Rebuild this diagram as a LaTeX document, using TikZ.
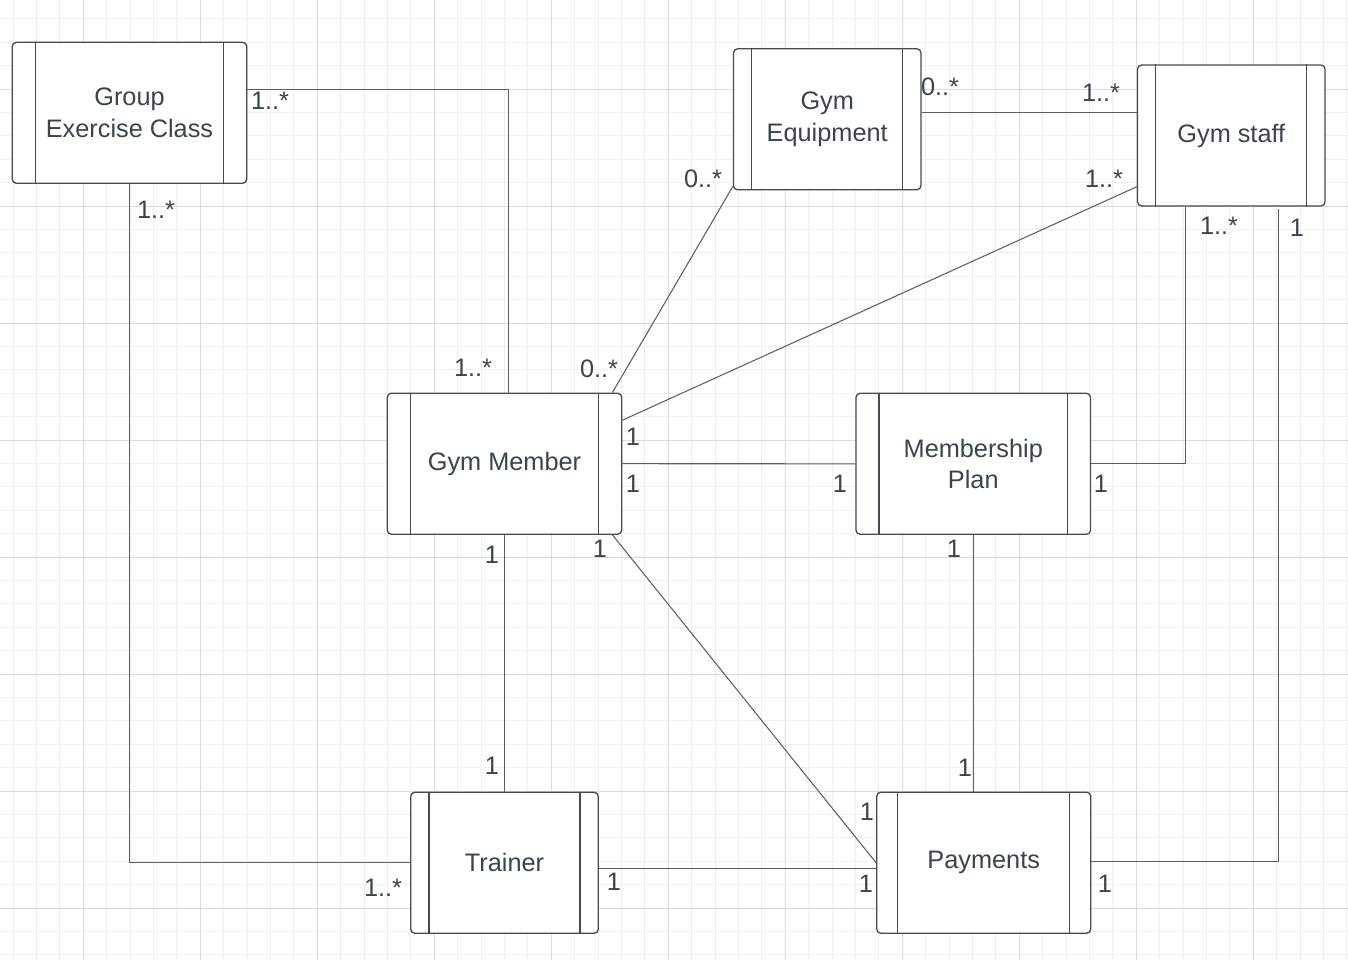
\documentclass[tikz,border=0pt]{standalone}
\usepackage{fontspec}
\setmainfont{Liberation Sans}
\usetikzlibrary{positioning, calc}

\definecolor{textgray}{HTML}{3B4350}
\definecolor{boxgray}{HTML}{444A54}
\definecolor{wiregray}{HTML}{5A5F67}
\definecolor{minorgrid}{HTML}{EFEFEF}
\definecolor{majorgrid}{HTML}{DCDCDC}

\begin{document}
\begin{tikzpicture}[
    x=0.02cm, y=-0.02cm,
    every node/.style={font=\fontsize{14.4}{18}\selectfont, text=textgray},
    entity/.style={rectangle, draw=boxgray, line width=0.75pt, rounded corners=2.3pt, fill=white, align=center, minimum height=2.82cm},
    wide/.style={entity, minimum width=4.69cm},
    narrow/.style={entity, minimum width=3.75cm},
    assoc/.style={draw=wiregray, line width=0.6pt},
    mult/.style={inner sep=0pt}
]

% background grid
\useasboundingbox (0,0) rectangle (1348,960);
\fill[white] (0,0) rectangle (1348,960);
\foreach \i in {0,...,57} {
    \pgfmathsetmacro{\gx}{13.1+23.4*\i}
    \draw[minorgrid, line width=0.5pt] (\gx,0) -- (\gx,960);
}
\foreach \j in {0,...,40} {
    \pgfmathsetmacro{\gy}{18.8+23.4*\j}
    \draw[minorgrid, line width=0.5pt] (0,\gy) -- (1348,\gy);
}
\foreach \i in {0,...,11} {
    \pgfmathsetmacro{\gx}{83.3+117*\i}
    \draw[majorgrid, line width=0.5pt] (\gx,0) -- (\gx,960);
}
\foreach \j in {0,...,8} {
    \pgfmathsetmacro{\gy}{89+117*\j}
    \draw[majorgrid, line width=0.5pt] (0,\gy) -- (1348,\gy);
}

% Entities
\node[wide] (gec) at (129.5,112.8) {Group\\Exercise Class};
\node[narrow] (equip) at (827.2,119.3) {Gym\\Equipment};
\node[narrow] (staff) at (1231.3,135.5) {Gym staff};
\node[wide] (member) at (504.5,463.7) {Gym Member};
\node[wide] (plan) at (973.3,463.8) {Membership\\Plan};
\node[narrow] (trainer) at (504.5,862.8) {Trainer};
\node[entity, minimum width=4.28cm] (pay) at (983.7,862.7) {Payments};

% side bars
\foreach \n in {gec,equip,staff,member,plan,trainer,pay} {
    \draw[boxgray, line width=0.75pt] ($(\n.north west)!0.1!(\n.north east)$) -- ($(\n.south west)!0.1!(\n.south east)$);
    \draw[boxgray, line width=0.75pt] ($(\n.north east)!0.1!(\n.north west)$) -- ($(\n.south east)!0.1!(\n.south west)$);
}

% Associations
\draw[assoc] ([yshift=0.47cm]gec.east) -| ([xshift=0.08cm]member.north);
\draw[assoc] (gec.south) |- (trainer.west);
\draw[assoc] ([yshift=0.13cm]equip.east) -- ([yshift=0.13cm]equip.east -| staff.west);
\draw[assoc] ([yshift=0.08cm]equip.south west) -- ([xshift=-0.2cm]member.north east);
\draw[assoc] ([yshift=0.4cm]staff.south west) -- ([yshift=0.87cm]member.east);
\draw[assoc] (member.east) -- (plan.west);
\draw[assoc] ([xshift=-0.92cm]staff.south) |- (plan.east);
\draw[assoc] ([xshift=0.95cm, yshift=-0.05cm]staff.south) |- ([yshift=0.03cm]pay.east);
\draw[assoc] (member.south) -- (trainer.north);
\draw[assoc] ([xshift=-0.2cm]member.south east) -- (pay.west);
\draw[assoc] ([yshift=-0.11cm]trainer.east) -- ([yshift=-0.11cm]trainer.east -| pay.west);
\draw[assoc] (plan.south) -- (plan.south |- pay.north);

% Multiplicities
\node[mult] (m1) at (270,101) {1..*};
\node[mult] (m2) at (473,368) {1..*};
\node[mult] (m3) at (156,210) {1..*};
\node[mult] (m4) at (383,888) {1..*};
\node[mult] (m5) at (940,87) {0..*};
\node[mult] (m6) at (1101,93) {1..*};
\node[mult] (m7) at (703,179) {0..*};
\node[mult] (m8) at (599,369) {0..*};
\node[mult] (m9) at (1104,179) {1..*};
\node[mult] (m10) at (633,437) {1};
\node[mult] (m11) at (633,484) {1};
\node[mult] (m12) at (840,484) {1};
\node[mult] (m13) at (1219,226) {1..*};
\node[mult] (m14) at (1101,484) {1};
\node[mult] (m15) at (1297,228) {1};
\node[mult] (m16) at (1105,884) {1};
\node[mult] (m17) at (492,555) {1};
\node[mult] (m18) at (492,766) {1};
\node[mult] (m19) at (600,549) {1};
\node[mult] (m20) at (867,812) {1};
\node[mult] (m21) at (614,882) {1};
\node[mult] (m22) at (866,884) {1};
\node[mult] (m23) at (954,549) {1};
\node[mult] (m24) at (965,768) {1};

\end{tikzpicture}
\end{document}
